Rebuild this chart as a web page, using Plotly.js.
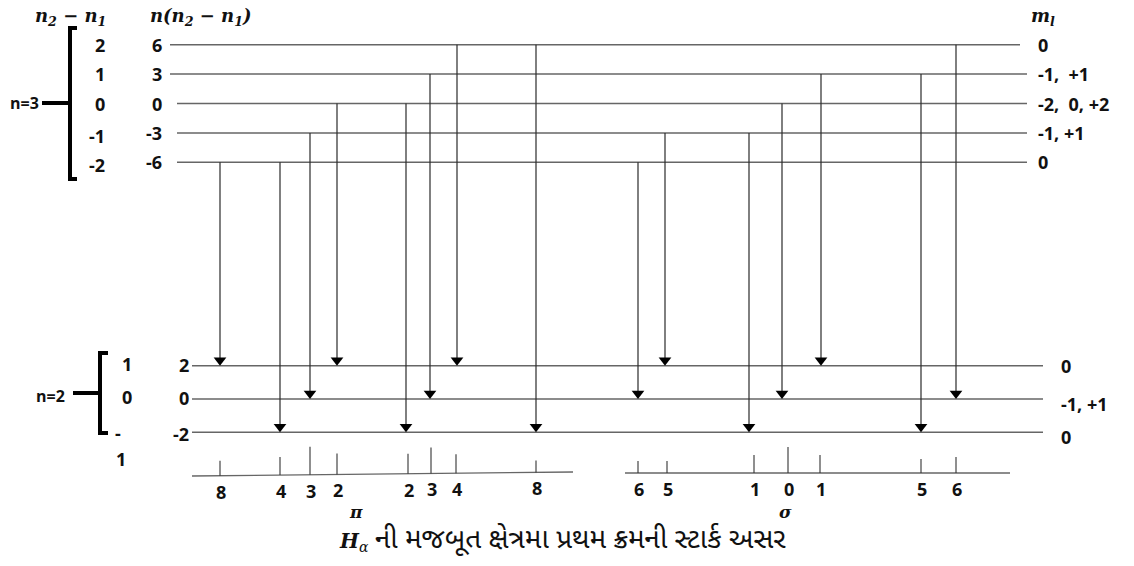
<!DOCTYPE html>
<html><head><meta charset="utf-8">
<script src="https://cdn.plot.ly/plotly-3.0.1.min.js"></script>
<style>html,body{margin:0;padding:0;background:#fff;}</style>
</head><body><div id="chart" style="width:1134px;height:566px;"></div>
<script>
// ---------------- data ----------------
const upperN = 3;
const upperK = [2, 1, 0, -1, -2];                 // n2 - n1 for n = 3
const upperMl = ['0', '-1,\u00a0 +1', '-2,\u00a0 0, +2', '-1, +1', '0'];
const lowerN = 2;
const lowerK = [1, 0, -1];                        // n2 - n1 for n = 2
const lowerMl = ['0', '-1, +1', '0'];

const piX = [220, 280, 310, 337, 406, 430, 457, 536];
const piFrom = [-6, -6, -3, 0, 0, 3, 6, 6];
const piTo = [2, -2, 0, 2, -2, 0, 2, -2];
const piTickX = [220, 280, 310, 337, 408, 431, 456, 536];
const piIntensity = [15, 18, 28, 21, 20, 26, 19, 12];
const piLabels = ['8', '4', '3', '2', '2', '3', '4', '8'];

const sigmaX = [638, 665, 749, 782, 821, 921, 956];
const sigmaFrom = [-6, -3, -3, 0, 3, 3, 6];
const sigmaTo = [0, 2, -2, 0, 2, -2, 0];
const sigmaTickX = [638, 667, 754, 788, 820, 921, 956];
const sigmaIntensity = [12, 12, 18, 26, 18, 14, 16];
const sigmaLabels = ['6', '5', '1', '0', '1', '5', '6'];

const captionSymbol = '<b><i>H</i></b><sub><i>α</i></sub>';
const captionText = 'ની મજબૂત ક્ષેત્રમા પ્રથમ ક્રમની સ્ટાર્ક અસર';

// ---------------- layout helpers ----------------
const upperY = v => 103.5 - 9.8 * v;
const lowerY = v => 399 - 16.65 * v;
const piBase = x => 476 - (x - 192) * 4 / 381;
const sigmaBase = x => 473;
const ARROW_R = 5.5;
const LEVEL_COLOR = '#666';
const VERT_COLOR = '#2a2a2a';
const numFont = {family: 'Open Sans', size: 18, color: '#111'};
const mathFont = {family: 'DejaVu Serif', size: 18, color: '#111'};
const b = s => '<b>' + s + '</b>';

const traces = [];
const ann = [];
function line(xs, ys, color, width) {
  traces.push({type: 'scatter', mode: 'lines', x: xs, y: ys, hoverinfo: 'skip',
    line: {color: color, width: width}, showlegend: false});
}
function text(x, y, t, font, xanchor) {
  ann.push({x: x, y: y, xref: 'x', yref: 'y', text: t, showarrow: false,
    xanchor: xanchor || 'center', yanchor: 'middle', font: font});
}

// upper levels
const lx = [], ly = [];
upperK.forEach((k, i) => {
  const v = upperN * k, y = upperY(v);
  lx.push(v > 0 ? 170 : 177, v === 6 ? 1020 : 1027, null);
  ly.push(y, y, null);
  text(164, y, b(String(v)), numFont, 'right');
  text(107, upperY(v) + (k < 0 ? 3 : 0), b(String(k)), numFont, 'right');
  text(1036, y, b(upperMl[i]), numFont, 'left');
});
// lower levels
lowerK.forEach((k, i) => {
  const v = lowerN * k, y = lowerY(v);
  lx.push(192, 1043, null);
  ly.push(y, y, null);
  text(191, y + (v < 0 ? 2 : -1), b(String(v)), numFont, 'right');
  if (k < 0) {
    text(118, y + 1, b('-'), numFont, 'center');
    text(121, y + 27, b(String(-k)), numFont, 'center');
  } else {
    text(127, y - 2, b(String(k)), numFont, 'center');
  }
  text(1059, y + (i === 0 ? 0 : 5), b(lowerMl[i]), numFont, 'left');
});
line(lx, ly, LEVEL_COLOR, 1.5);

// transitions
function transitions(xs, from, to) {
  const vx = [], vy = [], mx = [], my = [];
  xs.forEach((x, i) => {
    const yt = lowerY(to[i]);
    vx.push(x, x, null);
    vy.push(upperY(from[i]), yt - 4, null);
    mx.push(x); my.push(yt - ARROW_R);
  });
  line(vx, vy, VERT_COLOR, 1.2);
  traces.push({type: 'scatter', mode: 'markers', x: mx, y: my, hoverinfo: 'skip', showlegend: false,
    marker: {symbol: 'triangle-down', size: 11, color: '#000', line: {width: 0}}});
}
transitions(piX, piFrom, piTo);
transitions(sigmaX, sigmaFrom, sigmaTo);

// spectra
function spectrum(tx, inten, labels, base, x0, x1) {
  line([x0, x1], [base(x0), base(x1)], LEVEL_COLOR, 1.3);
  const sx = [], sy = [];
  tx.forEach((x, i) => {
    sx.push(x, x, null);
    sy.push(base(x), base(x) - inten[i], null);
    text(x + 1, base(x) + 16, b(labels[i]), numFont, 'center');
  });
  line(sx, sy, '#333', 1.1);
}
spectrum(piTickX, piIntensity, piLabels, piBase, 192, 573);
spectrum(sigmaTickX, sigmaIntensity, sigmaLabels, sigmaBase, 625, 1010);

// brackets
line([77, 70, 70, 77], [28, 28, 179, 179], '#000', 4);
line([42, 70], [103, 103], '#000', 4);
line([108, 100, 100, 108], [353, 353, 433, 433], '#000', 4);
line([73, 100], [393, 393], '#000', 4);
const nFont = {family: 'Open Sans', size: 16, color: '#111'};
text(24, 103, b('n=3'), nFont, 'center');
text(50, 396, b('n=2'), nFont, 'center');

// headers
text(70, 17, '<b><i>n<sub>2</sub> − n<sub>1</sub></i></b>', mathFont, 'center');
text(200, 17, '<b><i>n(n<sub>2</sub> − n<sub>1</sub>)</i></b>', mathFont, 'center');
text(1043, 17, '<b><i>m<sub>l</sub></i></b>', mathFont, 'center');
text(356, 512, '<b><i>π</i></b>', {family: 'DejaVu Serif', size: 17, color: '#111'}, 'center');
text(785, 512, '<b><i>σ</i></b>', {family: 'DejaVu Serif', size: 17, color: '#111'}, 'center');
text(371, 542, captionSymbol, {family: 'DejaVu Serif', size: 20, color: '#111'}, 'right');
text(373, 540, captionText, {family: 'Noto Sans Gujarati, Lohit Gujarati, Noto Serif Gujarati, DejaVu Sans, sans-serif', size: 28, color: '#111'}, 'left');

const layout = {
  width: 1134, height: 566,
  margin: {l: 0, r: 0, t: 0, b: 0},
  paper_bgcolor: '#fff', plot_bgcolor: '#fff',
  xaxis: {range: [0, 1134], visible: false, fixedrange: true},
  yaxis: {range: [566, 0], visible: false, fixedrange: true},
  annotations: ann, showlegend: false
};
Plotly.newPlot('chart', traces, layout, {staticPlot: true, displayModeBar: false});
</script></body></html>
